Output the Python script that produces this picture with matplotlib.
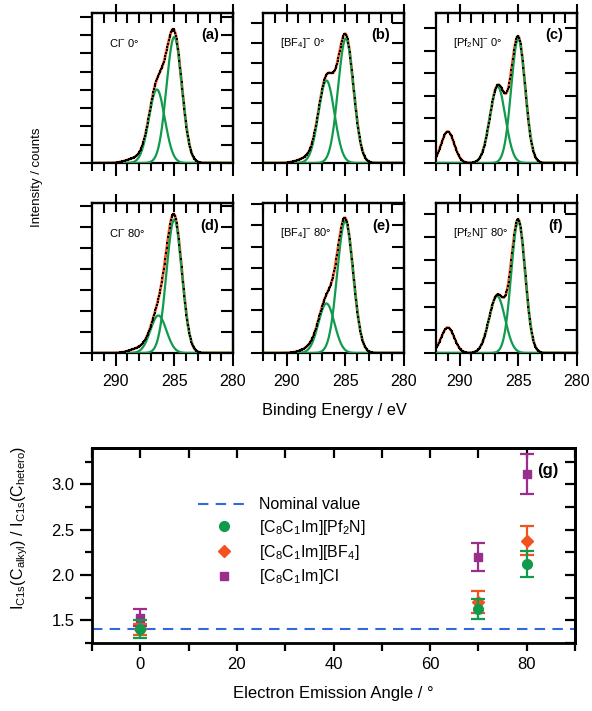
import numpy as np
import matplotlib
matplotlib.use('Agg')
import matplotlib.pyplot as plt
from matplotlib.ticker import MultipleLocator
from matplotlib.lines import Line2D

plt.rcParams['font.family'] = ['Liberation Sans', 'DejaVu Sans']
plt.rcParams['mathtext.fontset'] = 'custom'
plt.rcParams['mathtext.rm'] = 'Liberation Sans'
plt.rcParams['mathtext.default'] = 'regular'

# --- XPS C 1s spectra: fitted components ---
# each component: (binding energy / eV, height (rel.), FWHM / eV)
panel_names = ['Cl$^{-}$ 0°', '[BF$_4$]$^{-}$ 0°', '[Pf$_2$N]$^{-}$ 0°',
               'Cl$^{-}$ 80°', '[BF$_4$]$^{-}$ 80°', '[Pf$_2$N]$^{-}$ 80°']
panel_letters = ['(a)', '(b)', '(c)', '(d)', '(e)', '(f)']
green_peaks = [
    [(285.0, 0.84, 1.55), (286.48, 0.49, 1.6)],
    [(284.95, 0.83, 1.55), (286.6, 0.55, 1.6)],
    [(285.0, 0.83, 1.4), (286.75, 0.51, 1.55)],
    [(285.0, 0.89, 1.55), (286.35, 0.25, 1.6)],
    [(285.0, 0.88, 1.6), (286.6, 0.33, 1.6)],
    [(285.0, 0.88, 1.4), (286.8, 0.38, 1.6)],
]
# components only in the envelope (CF3 peak / weak tail)
extra_peaks = [
    [(288.3, 0.03, 1.8)],
    [(288.3, 0.03, 1.8)],
    [(291.0, 0.21, 1.3)],
    [(288.0, 0.03, 1.8)],
    [(288.0, 0.03, 1.8)],
    [(291.0, 0.17, 1.3)],
]
ytick_step = [0.122, 0.133, 0.15, 0.14, 0.142, 0.155]

# --- intensity ratio vs. emission angle ---
angles = [0, 70, 80]
nominal = 1.40
pf2n_val = [1.40, 1.62, 2.12]
pf2n_err = [0.10, 0.11, 0.14]
bf4_val = [1.40, 1.70, 2.38]
bf4_err = [0.06, 0.12, 0.16]
cl_val = [1.53, 2.20, 3.11]
cl_err = [0.09, 0.155, 0.22]

green = '#109a4c'
red = '#f2521f'
purple = '#9a2e8c'
blue = '#2f6ad6'


def gauss(x, c, h, w):
    return h * np.exp(-4 * np.log(2) * (x - c) ** 2 / w ** 2)


fig = plt.figure(figsize=(5.92, 7.11), dpi=100)

col_x = [92, 263, 436]
row_y = [13, 203]
W, H = 141, 150
energy = np.arange(280.0, 292.0001, 0.06)
grid = np.linspace(280, 292, 600)

for i in range(6):
    r, c = divmod(i, 3)
    ax = fig.add_axes([col_x[c] / 592, 1 - (row_y[r] + H) / 711, W / 592, H / 711])
    comps = green_peaks[i] + extra_peaks[i]
    env = sum(gauss(grid, *p) for p in comps)
    dots = sum(gauss(energy, *p) for p in comps)
    ax.plot(grid, env, color=red, lw=2.0, zorder=2)
    for p in green_peaks[i]:
        ax.plot(grid, gauss(grid, *p), color=green, lw=1.6, zorder=3)
    ax.plot(energy, dots, 's', color='black', ms=2.0, mew=0, zorder=4, clip_on=False)
    ax.set_xlim(292, 280)
    ax.set_ylim(0, 1)
    ax.xaxis.set_major_locator(MultipleLocator(5))
    ax.xaxis.set_minor_locator(MultipleLocator(1))
    ax.yaxis.set_major_locator(MultipleLocator(ytick_step[i]))
    ax.tick_params(axis='y', which='major', left=True, right=False, labelleft=False,
                   direction='out', length=9, width=1.5)
    ax.tick_params(axis='x', which='both', top=False, bottom=True, width=1.5)
    ax.tick_params(axis='x', which='major', direction='out', length=9,
                   labelbottom=(r == 1), labelsize=11.5, pad=6)
    ax.tick_params(axis='x', which='minor', direction='out', length=6)
    sx = ax.secondary_xaxis('top')
    sx.xaxis.set_major_locator(MultipleLocator(5))
    sx.xaxis.set_minor_locator(MultipleLocator(1))
    sx.tick_params(which='major', direction='inout', length=13, width=1.5, labeltop=False)
    sx.tick_params(which='minor', direction='in', length=7, width=1.5)
    sy = ax.secondary_yaxis('right')
    sy.yaxis.set_major_locator(MultipleLocator(ytick_step[i]))
    sy.tick_params(direction='in', length=9, width=1.5, labelright=False)
    for s in list(ax.spines.values()) + [sx.spines['top'], sy.spines['right']]:
        s.set_linewidth(1.6)
    ax.text(0.12, 0.80, panel_names[i], transform=ax.transAxes, fontsize=8, va='center')
    ax.text(0.90, 0.85, panel_letters[i], transform=ax.transAxes, fontsize=10.5,
            fontweight='bold', ha='right', va='center')

fig.text(37 / 592, 1 - 177 / 711, 'Intensity / counts', rotation=90,
         ha='center', va='center', fontsize=9.5)
fig.text(334 / 592, 1 - 410 / 711, 'Binding Energy / eV', ha='center',
         va='center', fontsize=11.8)

# bottom panel
ax = fig.add_axes([92 / 592, 1 - 643 / 711, 483 / 592, 195 / 711])
ax.axhline(nominal, color=blue, ls=(0, (5, 3.5)), lw=1.5, zorder=1)
eb = dict(capsize=5, elinewidth=1.6, capthick=1.6, ls='none')
ax.errorbar(angles, cl_val, yerr=cl_err, marker='s', ms=6, color=purple, zorder=2, **eb)
ax.errorbar(angles, bf4_val, yerr=bf4_err, marker='D', ms=6, color=red, zorder=3, **eb)
ax.errorbar(angles, pf2n_val, yerr=pf2n_err, marker='o', ms=7, color=green, zorder=4, **eb)
ax.set_xlim(-10, 90)
ax.set_ylim(1.25, 3.4)
ax.xaxis.set_major_locator(MultipleLocator(20))
ax.xaxis.set_minor_locator(MultipleLocator(10))
ax.yaxis.set_major_locator(MultipleLocator(0.5))
ax.yaxis.set_minor_locator(MultipleLocator(0.25))
ax.tick_params(which='both', width=1.6, labelsize=12)
ax.tick_params(axis='x', which='both', direction='out', length=6, top=False, pad=4)
ax.tick_params(axis='y', which='major', direction='out', length=9, right=False)
ax.tick_params(axis='y', which='minor', direction='out', length=5, right=False)
ax2 = ax.secondary_xaxis('top')
ax2.xaxis.set_major_locator(MultipleLocator(10))
ax2.tick_params(direction='in', length=7, width=1.6, labeltop=False)
ax2.spines['top'].set_linewidth(2)
ax3 = ax.secondary_yaxis('right')
ax3.yaxis.set_major_locator(MultipleLocator(0.25))
ax3.tick_params(direction='in', length=7, width=1.6, labelright=False)
ax3.spines['right'].set_linewidth(2)
for s in ax.spines.values():
    s.set_linewidth(2)
ax.text(0.965, 0.885, '(g)', transform=ax.transAxes, fontsize=12,
        fontweight='bold', ha='right', va='center')
ax.set_xlabel('Electron Emission Angle / °', fontsize=12, labelpad=10)
fig.text(20 / 592, 1 - 528 / 711,
         'I$_{C1s}$(C$_{alkyl}$) / I$_{C1s}$(C$_{hetero}$)',
         rotation=90, ha='center', va='center', fontsize=11.5)

handles = [Line2D([], [], color=blue, ls=(0, (5, 3.5)), lw=1.5),
           Line2D([], [], color=green, marker='o', ms=7, ls='none'),
           Line2D([], [], color=red, marker='D', ms=6, ls='none'),
           Line2D([], [], color=purple, marker='s', ms=6, ls='none')]
labels = ['Nominal value', '[C$_8$C$_1$Im][Pf$_2$N]', '[C$_8$C$_1$Im][BF$_4$]',
          '[C$_8$C$_1$Im]Cl']
ax.legend(handles, labels, loc='upper left', bbox_to_anchor=(0.19, 0.82),
          frameon=False, fontsize=11.5, handlelength=3.2, labelspacing=0.35,
          handletextpad=0.6)

fig.savefig('out.png', dpi=100)
